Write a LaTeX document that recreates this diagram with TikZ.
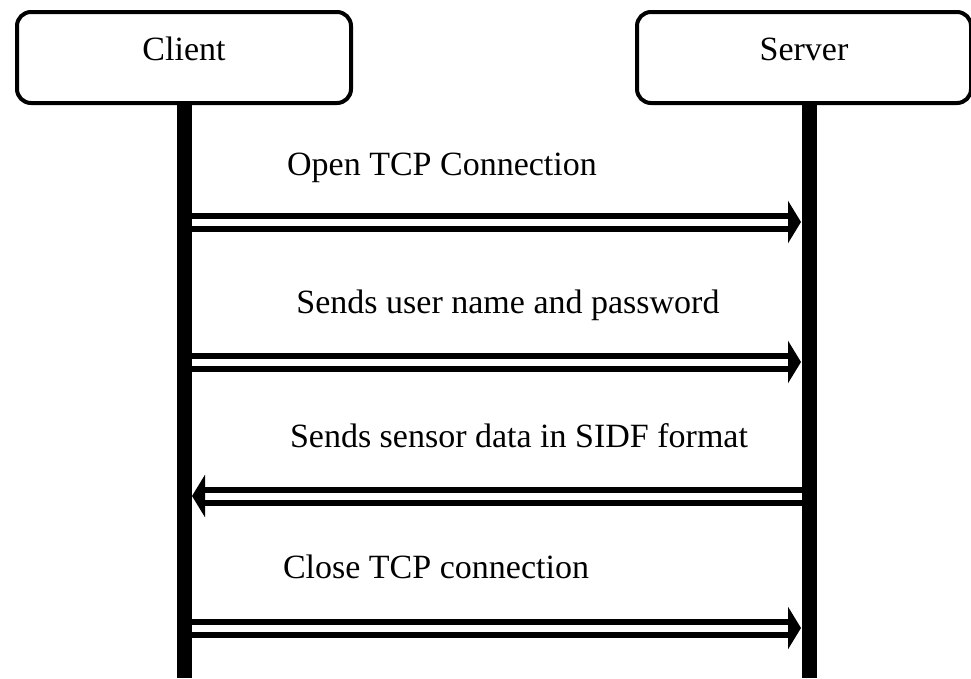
\documentclass[tikz,border=0pt]{standalone}
\usepackage{fontspec}
\setmainfont{Liberation Serif}
\usepackage{tikz}
\usetikzlibrary{arrows.meta, calc, positioning}
\tikzset{
	party/.style={draw, line width=4pt, rounded corners=14pt, minimum width=334pt,
		inner sep=0pt, text height=48pt, text depth=43pt, anchor=base},
	lifeline/.style={line width=15pt},
	msg/.style={line width=6pt, double, double distance=7pt, -{Triangle[length=13pt,width=42pt]}},
	msgtext/.style={anchor=base, inner sep=0pt}
}

\begin{document}
\begin{tikzpicture}[x=1pt,y=-1pt,font=\fontsize{34}{40}\selectfont]
			\useasboundingbox (0,0) rectangle (971,678);
			\node [party] (client) at (184,60) {Client};
			\node [party] (server) at (804,60) {Server};
			\coordinate (cend) at (184,678);
			\coordinate (send) at (809,678);
			% message positions on the two lifelines
			\coordinate (c1) at (184,222); \coordinate (s1) at (801,222);
			\coordinate (c2) at (184,362); \coordinate (s2) at (801,362);
			\coordinate (c3) at (192,496); \coordinate (s3) at (809,496);
			\coordinate (c4) at (184,628); \coordinate (s4) at (801,628);
			\draw [msg] (c1) -- (s1);
			\draw [msg] (c2) -- (s2);
			\draw [msg] (s3) -- (c3);
			\draw [msg] (c4) -- (s4);
			\draw [lifeline] (client.south) -- (cend);
			\draw [lifeline] (server.south -| send) -- (send);
			\node [msgtext] (open) at (442,175) {Open TCP Connection};
			\node [msgtext] (login) at (508,313) {Sends user name and password};
			\node [msgtext] (data) at (519,447) {Sends sensor data in SIDF format};
			\node [msgtext] (close) at (436,578) {Close TCP connection};
		\end{tikzpicture}
\end{document}
